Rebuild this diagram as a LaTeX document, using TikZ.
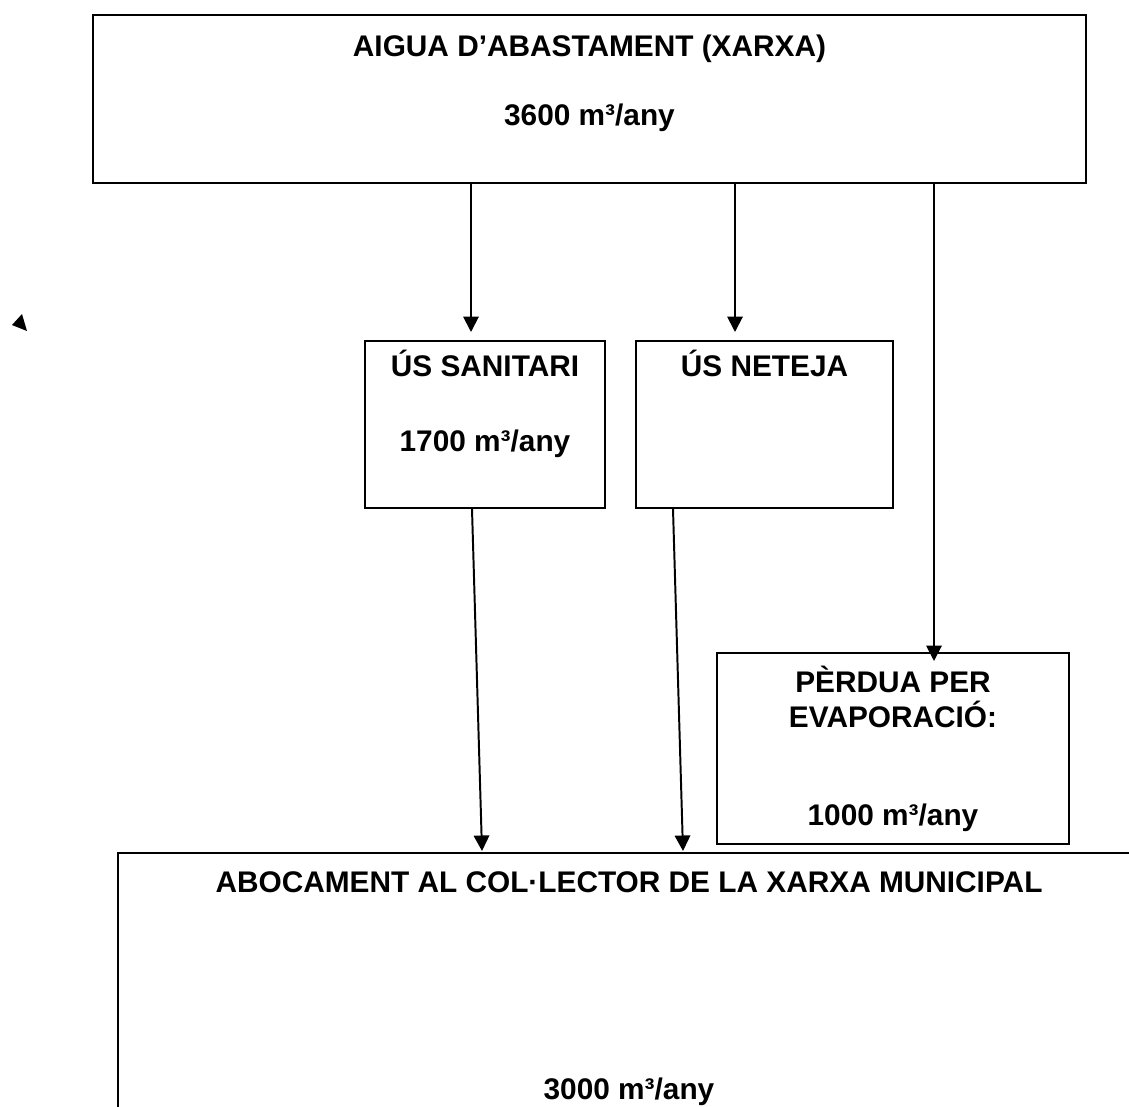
\documentclass[tikz,border=0pt]{standalone}
\usepackage{fontspec}
\setmainfont{Liberation Sans}
\usetikzlibrary{arrows.meta,calc}

\begin{document}
\begin{tikzpicture}[x=0.025cm,y=-0.025cm]
\tikzstyle{box}=[draw,line width=1.4pt,inner sep=0pt];
\tikzstyle{txt}=[anchor=base,inner sep=0pt,font=\fontsize{21.2}{25}\selectfont\bfseries];
\tikzstyle{flow}=[-{Triangle[length=11pt,width=11pt]},line width=1.4pt];
\useasboundingbox (0,0) rectangle (1129,1106);

\node[box,minimum width=24.825cm,minimum height=4.2cm] (xarxa) at (589.5,99) {};
\node[box,minimum width=6cm,minimum height=4.175cm] (sanitari) at (485,424.5) {};
\node[box,minimum width=6.425cm,minimum height=4.175cm] (neteja) at (764.5,424.5) {};
\node[box,minimum width=8.8cm,minimum height=4.775cm] (perdua) at (893,748.5) {};
\node[box,minimum width=25.55cm,minimum height=6.925cm] (abocament) at (629,991.5) {};

\node[txt] (xarxa-t) at ($(xarxa.north)+(0,43)$) {AIGUA D’ABASTAMENT (XARXA)};
\node[txt] (xarxa-v) at ($(xarxa.north)+(0,112)$) {3600 m³/any};
\node[txt] (sanitari-t) at ($(sanitari.north)+(0,36)$) {ÚS SANITARI};
\node[txt] (sanitari-v) at ($(sanitari.north)+(0,111)$) {1700 m³/any};
\node[txt] (neteja-t) at ($(neteja.north)+(0,36)$) {ÚS NETEJA};
\node[txt] (perdua-t1) at ($(perdua.north)+(0,40)$) {PÈRDUA PER};
\node[txt] (perdua-t2) at ($(perdua.north)+(0,75)$) {EVAPORACIÓ:};
\node[txt] (perdua-v) at ($(perdua.north)+(0,173)$) {1000 m³/any};
\node[txt] (abocament-t) at ($(abocament.north)+(0,41)$) {ABOCAMENT AL COL·LECTOR DE LA XARXA MUNICIPAL};
\node[txt] (abocament-v) at ($(abocament.north)+(0,247)$) {3000 m³/any};

\coordinate (sanitari-in) at ($(sanitari.north)+(-14,-8)$);
\coordinate (neteja-in) at ($(neteja.north)+(-29.5,-8)$);
\coordinate (perdua-in) at ($(perdua.north)+(41,9)$);
\draw[flow] (sanitari-in |- xarxa.south) -- (sanitari-in);
\draw[flow] (neteja-in |- xarxa.south) -- (neteja-in);
\draw[flow] (perdua-in |- xarxa.south) -- (perdua-in);
\draw[flow] ($(sanitari.south)+(-13,0)$) -- ($(abocament.north)+(-147,-1)$);
\draw[flow] ($(neteja.south)+(-91.5,0)$) -- ($(abocament.north)+(54,-1)$);

\fill (12,325) -- (22,314) -- (27,331) -- cycle;
\end{tikzpicture}
\end{document}
